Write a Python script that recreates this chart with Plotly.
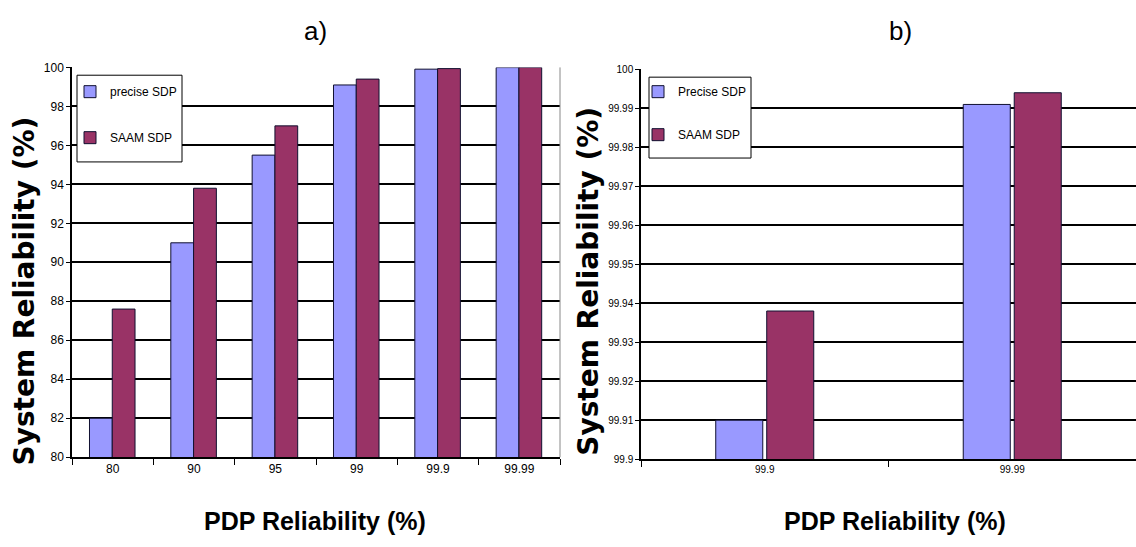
import plotly.graph_objects as go

# PDP reliability levels (%) and resulting system reliability (%)
pdp_levels = ["80", "90", "95", "99", "99.9", "99.99"]
precise_sdp = [82.0, 91.0, 95.5, 99.1, 99.91, 99.991]
saam_sdp = [87.6, 93.8, 97.0, 99.4, 99.938, 99.994]

# Close-up of the two highest PDP levels
pdp_levels_hi = pdp_levels[-2:]
precise_sdp_hi = precise_sdp[-2:]
saam_sdp_hi = saam_sdp[-2:]

# y tick labels of the close-up panel
hi_ticks = [99.9, 99.91, 99.92, 99.93, 99.94, 99.95, 99.96, 99.97, 99.98, 99.99, 100]
hi_tick_text = ["99.9", "99.91", "99.92", "99.93", "99.94", "99.95",
                "99.96", "99.97", "99.98", "99.99", "100"]

BLUE = "#9999FF"
MAROON = "#993366"
EDGE = "#101030"
SANS = "Liberation Sans, Arial, sans-serif"
WIDE_BOLD = "DejaVu Sans, Verdana, sans-serif"

fig = go.Figure()

# panel a)
fig.add_trace(go.Bar(x=pdp_levels, y=precise_sdp, name="precise SDP",
                     marker=dict(color=BLUE, line=dict(color=EDGE, width=1)),
                     width=0.28, offset=-0.285, xaxis="x", yaxis="y",
                     legend="legend", legendgroup="a1"))
fig.add_trace(go.Bar(x=pdp_levels, y=saam_sdp, name="SAAM SDP",
                     marker=dict(color=MAROON, line=dict(color=EDGE, width=1)),
                     width=0.28, offset=-0.005, xaxis="x", yaxis="y",
                     legend="legend", legendgroup="a2"))

# panel b)
fig.add_trace(go.Bar(x=pdp_levels_hi, y=precise_sdp_hi, name="Precise SDP",
                     marker=dict(color=BLUE, line=dict(color=EDGE, width=1)),
                     width=0.19, offset=-0.198, xaxis="x2", yaxis="y2",
                     legend="legend2", legendgroup="b1"))
fig.add_trace(go.Bar(x=pdp_levels_hi, y=saam_sdp_hi, name="SAAM SDP",
                     marker=dict(color=MAROON, line=dict(color=EDGE, width=1)),
                     width=0.19, offset=0.008, xaxis="x2", yaxis="y2",
                     legend="legend2", legendgroup="b2"))

W, H = 1136, 547


def px_x(v):
    return v / W


def px_y(v):
    return (H - v) / H


axis_common = dict(showline=True, linecolor="black", linewidth=1.5,
                   ticks="outside", tickcolor="black", zeroline=False)

legend_common = dict(bgcolor="rgba(0,0,0,0)", borderwidth=0,
                     font=dict(family=SANS, size=12, color="black"),
                     itemwidth=30, xanchor="left",
                     yanchor="top", orientation="v")


def legend_box(x0, y0, x1, y1):
    return dict(type="rect", xref="paper", yref="paper", layer="above",
                x0=px_x(x0), x1=px_x(x1), y0=px_y(y1), y1=px_y(y0),
                fillcolor="white", line=dict(color="black", width=1))


fig.update_layout(
    width=W, height=H,
    margin=dict(l=0, r=0, t=0, b=0),
    paper_bgcolor="white", plot_bgcolor="white",
    barmode="overlay",
    font=dict(family=SANS, color="black"),
    xaxis=dict(domain=[px_x(72), px_x(560)], type="category",
               tickson="boundaries", ticklen=6, showgrid=False,
               tickfont=dict(size=12), anchor="y", **axis_common),
    yaxis=dict(domain=[px_y(462), px_y(62)], range=[80, 100], dtick=2,
               ticklen=4, showgrid=True, gridcolor="black", gridwidth=2,
               tickfont=dict(size=12), anchor="x", **axis_common),
    xaxis2=dict(domain=[px_x(641), 1.0], type="category",
                tickson="boundaries", ticklen=6, showgrid=False,
                tickfont=dict(size=10), anchor="y2", **axis_common),
    yaxis2=dict(domain=[px_y(464), px_y(64)], range=[99.9, 100],
                tickvals=hi_ticks, ticktext=hi_tick_text,
                ticklen=4, showgrid=True, gridcolor="black",
                gridwidth=2, tickfont=dict(size=10), anchor="x2",
                **axis_common),
    legend=dict(x=px_x(70), y=px_y(72), tracegroupgap=27, **legend_common),
    legend2=dict(x=px_x(638), y=px_y(72), tracegroupgap=24, **legend_common),
    shapes=[
        # thin frame line closing the right side of panel a)
        dict(type="line", xref="x domain", yref="y domain",
             x0=1, x1=1, y0=0, y1=1, line=dict(color="#888888", width=1)),
        legend_box(77, 70, 182, 159),
        legend_box(649, 72, 751, 155),
    ],
)

annotations = [
    dict(text="a)", x=px_x(315), y=px_y(25), font=dict(family=SANS, size=26)),
    dict(text="b)", x=px_x(900), y=px_y(25), font=dict(family=SANS, size=26)),
    dict(text="<b>PDP Reliability (%)</b>", x=px_x(315), y=px_y(528),
         font=dict(family=SANS, size=25)),
    dict(text="<b>PDP Reliability (%)</b>", x=px_x(895), y=px_y(528),
         font=dict(family=SANS, size=25)),
    dict(text="<b>System Reliability (%)</b>", x=px_x(25), y=px_y(292),
         textangle=-90, font=dict(family=WIDE_BOLD, size=28)),
    dict(text="<b>System Reliability (%)</b>", x=px_x(589), y=px_y(282),
         textangle=-90, font=dict(family=WIDE_BOLD, size=28)),
]
for a in annotations:
    a.update(xref="paper", yref="paper", showarrow=False,
             xanchor="center", yanchor="middle")
fig.update_layout(annotations=annotations)

fig.write_html("out.html")
